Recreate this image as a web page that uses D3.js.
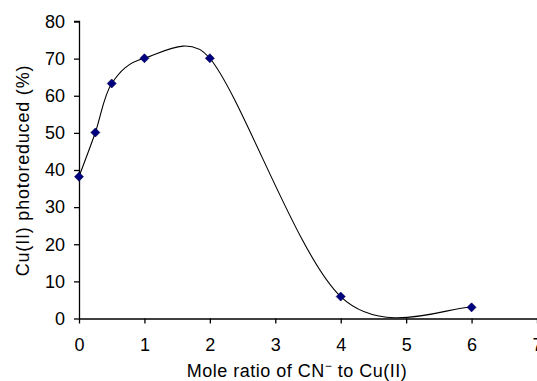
<!DOCTYPE html>
<html><head><meta charset="utf-8">
<script src="https://cdn.jsdelivr.net/npm/d3@7"></script>
<style>body{margin:0;background:#fff}svg{display:block}text{font-family:"Liberation Sans",Arial,sans-serif;fill:#000}</style>
</head><body><div id="chart"></div>
<script>
const ratios = [0, 0.25, 0.5, 1, 2, 4, 6];
const photoreduced = [38.2, 50.1, 63.3, 70.1, 70.1, 5.9, 3.0];
const xTicks = [0, 1, 2, 3, 4, 5, 6, 7];
const yTicks = [0, 10, 20, 30, 40, 50, 60, 70, 80];
const xTitle = "Mole ratio of CN";
const xTitleSup = "\u2212";
const xTitleRest = " to Cu(II)";
const yTitle = "Cu(II) photoreduced (%)";

const W = 537, H = 381;
const svg = d3.select("#chart").append("svg").attr("width", W).attr("height", H);
const x = d3.scaleLinear().domain([0, 7]).range([79, 537]);
const y = d3.scaleLinear().domain([0, 80]).range([318.5, 21.5]);

// Excel-style smoothed line: Bezier with 1/6 tangents, handles clamped to half segment length
function excelSmooth(context) {
  let pts;
  const clamp = (v, maxLen) => {
    const l = Math.hypot(v[0], v[1]);
    return l > maxLen && l > 0 ? [v[0] * maxLen / l, v[1] * maxLen / l] : v;
  };
  return {
    areaStart() {}, areaEnd() {},
    lineStart() { pts = []; },
    point(px, py) { pts.push([+px, +py]); },
    lineEnd() {
      const n = pts.length;
      if (!n) return;
      context.moveTo(pts[0][0], pts[0][1]);
      for (let i = 0; i < n - 1; i++) {
        const p0 = pts[Math.max(i - 1, 0)], p1 = pts[i], p2 = pts[i + 1], p3 = pts[Math.min(i + 2, n - 1)];
        const half = Math.hypot(p2[0] - p1[0], p2[1] - p1[1]) / 2;
        const t1 = clamp([(p2[0] - p0[0]) / 6, (p2[1] - p0[1]) / 6], half);
        const t2 = clamp([(p3[0] - p1[0]) / 6, (p3[1] - p1[1]) / 6], half);
        context.bezierCurveTo(p1[0] + t1[0], p1[1] + t1[1], p2[0] - t2[0], p2[1] - t2[1], p2[0], p2[1]);
      }
    }
  };
}

const fs = 18;
const yAxis = d3.axisLeft(y).tickValues(yTicks).tickSize(5).tickPadding(9).tickFormat(d3.format("d"));
const gy = svg.append("g").attr("transform", `translate(${x(0)},0)`).call(yAxis);
const xAxis = d3.axisBottom(x).tickValues(xTicks).tickSize(5).tickPadding(15).tickFormat(d3.format("d"));
const gx = svg.append("g").attr("transform", `translate(0,${y(0)})`).call(xAxis);
[gx, gy].forEach(g => {
  g.select(".domain").attr("stroke", "#000").attr("stroke-width", 1.3);
  g.selectAll(".tick line").attr("stroke", "#000").attr("stroke-width", 1.3);
  g.selectAll(".tick text").attr("font-size", fs).attr("font-family", '"Liberation Sans",Arial,sans-serif').attr("fill", "#111");
});
gx.select(".domain").attr("d", `M${x(0)},0.5H${W}`);
gy.select(".domain").attr("d", `M-5,${y(80)}H0.5V${y(0)}`);

const pts = ratios.map((r, i) => [r, photoreduced[i]]);
const line = d3.line().x(d => x(d[0])).y(d => y(d[1])).curve(excelSmooth);
svg.append("path").datum(pts).attr("d", line).attr("fill", "none").attr("stroke", "#000").attr("stroke-width", 1.1);

svg.append("g").selectAll("path").data(pts).join("path")
  .attr("d", d3.symbol().type(d3.symbolDiamond2).size(52))
  .attr("transform", d => `translate(${x(d[0])},${y(d[1])})`)
  .attr("fill", "#000080").attr("stroke", "#000040").attr("stroke-width", 0.6);

const t = svg.append("text").attr("x", 297).attr("y", 377).attr("text-anchor", "middle")
  .attr("font-size", fs).attr("letter-spacing", 0.5).attr("fill", "#111");
t.append("tspan").text(xTitle);
t.append("tspan").attr("dy", -7).attr("font-size", 12).text(xTitleSup);
t.append("tspan").attr("dy", 7).text(xTitleRest);

svg.append("text").attr("transform", "translate(29,170.5) rotate(-90)").attr("text-anchor", "middle")
  .attr("font-size", fs).attr("letter-spacing", 0.8).attr("fill", "#111").text(yTitle);
</script></body></html>
